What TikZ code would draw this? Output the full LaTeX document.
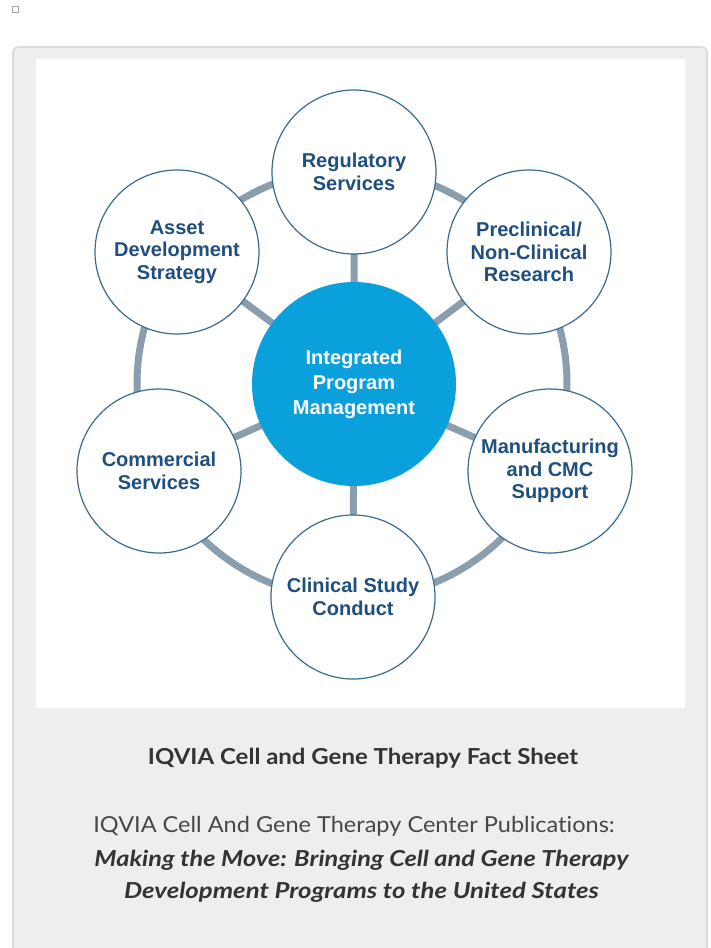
\documentclass[tikz,border=0pt]{standalone}
\usepackage{fontspec}
\usetikzlibrary{backgrounds}
\newfontfamily\arialf{Liberation Sans}
\newfontfamily\latof{Lato}[Ligatures={NoCommon}]
\definecolor{ringc}{HTML}{8A9EAD}
\definecolor{ocb}{HTML}{3A6A90}
\definecolor{otext}{HTML}{1F4F7E}
\definecolor{cfill}{HTML}{0AA0DC}
\definecolor{panelc}{HTML}{EEEEEE}
\definecolor{panelb}{HTML}{DADADA}
\definecolor{captc}{HTML}{333333}
\tikzset{
  outer/.style={circle, draw=ocb, line width=1.2pt, fill=white, minimum size=164pt, inner sep=0pt, align=center, text=otext, font=\arialf\bfseries\fontsize{20}{22.5}\selectfont},
  hub/.style={circle, fill=cfill, minimum size=204pt, inner sep=0pt, align=center, text=white, font=\arialf\bfseries\fontsize{20}{25}\selectfont},
  spoke/.style={draw=ringc, line width=7pt},
  capt/.style={text=captc, inner sep=0pt, anchor=base}
}
\begin{document}
\begin{tikzpicture}[x=1pt,y=-1pt]
\useasboundingbox (0,0) rectangle (710,948);
\clip (0,0) rectangle (710,948);
\begin{scope}[on background layer]
\fill[white] (0,0) rectangle (710,948);
% small square
\draw[draw=gray!70, line width=1pt] (12.5,6.5) rectangle (18.5,12.5);
% panel
\draw[fill=panelc, draw=panelb, line width=1.6pt, rounded corners=5pt] (13,47) rectangle (707,980);
\fill[white] (36,59) rectangle (685,708);
% ring
\coordinate (rc) at (352,384);
\draw[draw=ringc, line width=7pt] (rc) circle[radius=215];
\end{scope}
% nodes
\node[hub] (ipm) at (354,384) {Integrated\\Program\\Management};
\node[outer] (reg) at (354,172) {Regulatory\\Services};
\node[outer] (ads) at (177,252) {Asset\\Development\\Strategy};
\node[outer] (pre) at (529,252) {Preclinical/\\Non-Clinical\\Research};
\node[outer] (com) at (159,471) {Commercial\\Services};
\node[outer] (man) at (550,471) {Manufacturing\\and CMC\\Support};
\node[outer] (cli) at (353,597) {Clinical Study\\Conduct};
% spokes
\begin{scope}[on background layer]
\path[spoke] (ipm.center) -- (reg.center) (ipm.center) -- (ads.center) (ipm.center) -- (pre.center)
  (ipm.center) -- (com.center) (ipm.center) -- (man.center) (ipm.center) -- (cli.center);
\end{scope}
% caption
\node[capt, xscale=1.09, font=\latof\bfseries\fontsize{22}{24}\selectfont] (t1) at (363,764) {IQVIA Cell and Gene Therapy Fact Sheet};
\node[capt, xscale=1.07, font=\latof\fontsize{22}{24}\selectfont, text=captc!90] (t2) at (354,832) {IQVIA Cell And Gene Therapy Center Publications:};
\node[capt, xscale=1.15, font=\latof\bfseries\itshape\fontsize{22}{24}\selectfont] (t3) at (361.5,866) {Making the Move: Bringing Cell and Gene Therapy};
\node[capt, xscale=1.17, font=\latof\bfseries\itshape\fontsize{22}{24}\selectfont] (t4) at (361.5,898) {Development Programs to the United States};
\end{tikzpicture}
\end{document}
